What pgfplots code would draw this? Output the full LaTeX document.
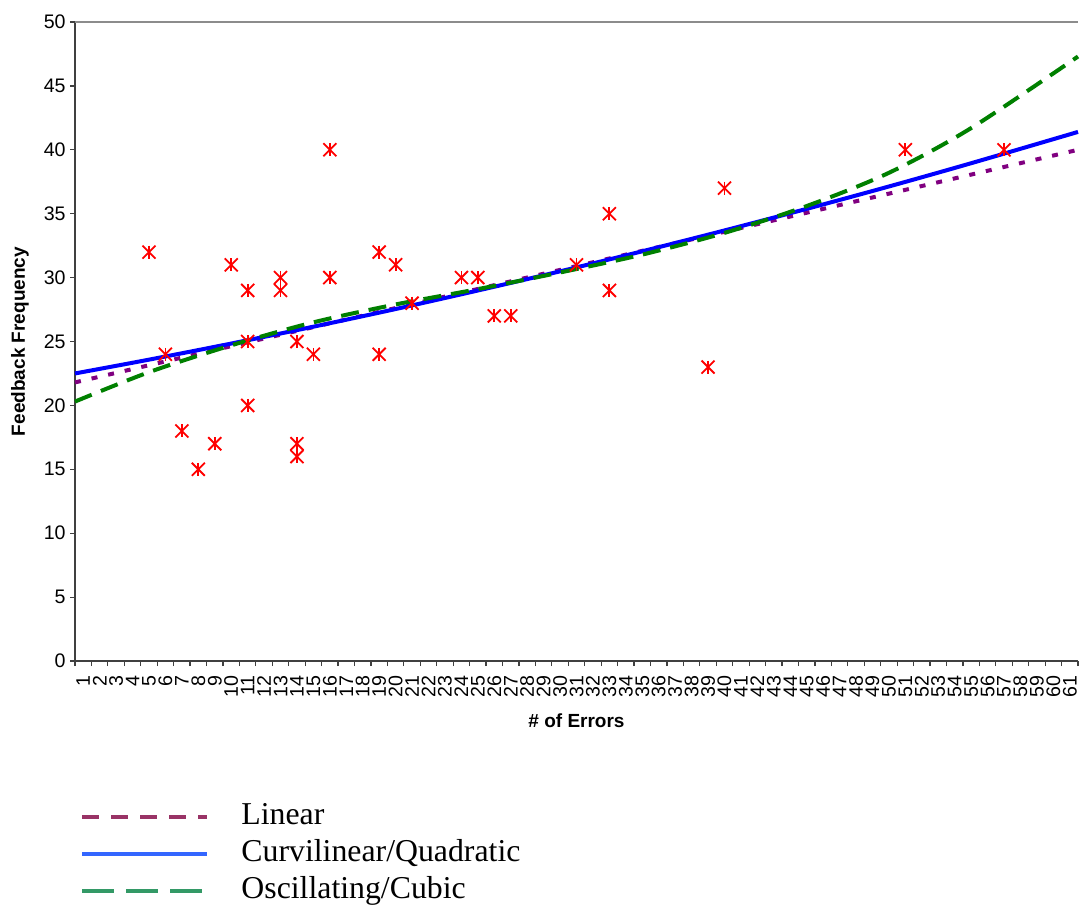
\documentclass[border=0pt]{standalone}
\usepackage{pgfplots}
\pgfplotsset{compat=1.18}
\usepackage{pgfplotstable}
\usetikzlibrary{calc}
\usepackage{fontspec}
\setmainfont{Liberation Serif}
\setsansfont{Liberation Sans}

\definecolor{linpurple}{RGB}{128,0,128}
\definecolor{quadblue}{RGB}{0,0,255}
\definecolor{cubgreen}{RGB}{0,128,0}
\definecolor{leglin}{RGB}{153,51,102}
\definecolor{legquad}{RGB}{51,102,255}
\definecolor{legcub}{RGB}{51,153,102}

% errors vs feedback frequency
\pgfplotstableread{
x y
5 32
6 24
7 18
8 15
9 17
10 31
11 29
11 25
11 20
13 30
13 29
14 25
14 17
14 16
15 24
16 40
16 30
19 32
19 24
20 31
21 28
24 30
25 30
26 27
27 27
31 31
33 35
33 29
39 23
40 37
51 40
57 40
}\obs

\begin{document}
\begin{tikzpicture}
\begin{axis}[
scale only axis,
width=501.5pt,
height=319.5pt,
xmin=0.5,xmax=61.5,
ymin=0,ymax=50,
axis x line*=bottom,
axis y line*=left,
axis line style={black!75,line width=0.8pt},
tick align=outside,
xtick={1,...,61},
major x tick style={draw=none},
minor xtick={0.5,1.5,...,61.5},
minor tick length=2.5pt,
ytick={0,5,...,50},
major tick length=2.5pt,
tick style={black!75,line width=0.6pt},
/pgf/number format/assume math mode=true,
tick label style={font=\sffamily\fontsize{9.8}{10}\selectfont},
x tick label style={rotate=90,anchor=east,inner xsep=4.5pt,inner ysep=1pt},
y tick label style={inner sep=2pt},
xlabel={\# of Errors},
ylabel={Feedback Frequency},
label style={font=\sffamily\bfseries\fontsize{9.5}{10}\selectfont},
xlabel style={yshift=0pt},
ylabel style={yshift=2pt},
clip=false,
legend style={draw=none,fill=none,inner sep=0pt,
  at={(axis description cs:0.005,-0.221)},anchor=north west,
  font=\fontsize{15.9}{18}\selectfont,
  row sep=4pt,
  nodes={inner sep=0pt,text height=11pt,text depth=3.5pt}},
legend cell align=left,
legend image code/.code={\draw[#1] (0pt,0pt) -- (62.5pt,0pt);\path (78.5pt,0pt);},
]
\draw[black!45,line width=0.8pt] (rel axis cs:0,1) -- (rel axis cs:1,1);
\coordinate (origin) at (rel axis cs:0,0);

\addplot[forget plot,only marks,mark=x,mark size=4.6pt,
  mark options={red,line width=0.9pt}] table[x=x,y=y] {\obs};
\addplot[forget plot,only marks,mark=|,mark size=3.25pt,
  mark options={red,line width=0.9pt}] table[x=x,y=y] {\obs};

\addplot[forget plot,linpurple,line width=2pt,dash pattern=on 3pt off 5.5pt]
coordinates {(0.5,21.8) (61.5,40.0)};

\addplot[forget plot,quadblue,line width=2pt,smooth]
coordinates {(0.5,22.50) (5,23.58) (10,24.84) (15,26.16) (20,27.54) (25,28.99)
(30,30.49) (35,32.06) (40,33.69) (45,35.38) (50,37.13) (55,38.95) (61.5,41.40)};

\addplot[forget plot,cubgreen,line width=2pt,dash pattern=on 9pt off 5pt,smooth]
coordinates {(0.5,20.3) (5,22.6) (10,24.7) (15,26.5) (20,27.9) (25,29.1)
(30,30.4) (35,31.8) (40,33.5) (45,35.6) (50,38.2) (55,41.7) (61.5,47.3)};

\addlegendimage{leglin,line width=2pt,dash pattern=on 8.5pt off 6pt}
\addlegendentry{Linear}
\addlegendimage{legquad,line width=2pt}
\addlegendentry{Curvilinear/Quadratic}
\addlegendimage{legcub,line width=2pt,dash pattern=on 16pt off 6pt}
\addlegendentry{Oscillating/Cubic}
\end{axis}
\pgfresetboundingbox
\path[use as bounding box] ($(origin)+(-37.5pt,-122pt)$) rectangle ($(origin)+(503pt,330.5pt)$);
\end{tikzpicture}
\end{document}
